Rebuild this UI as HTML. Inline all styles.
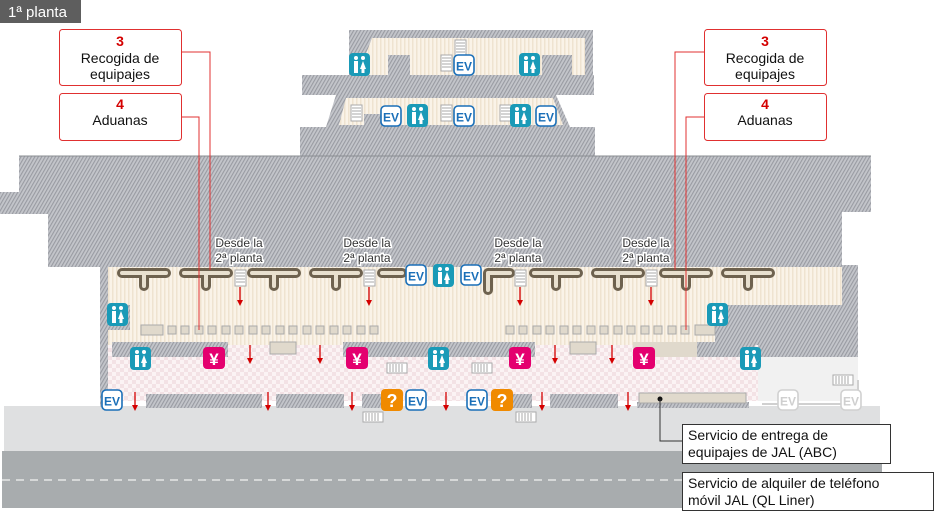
<!DOCTYPE html>
<html><head><meta charset="utf-8"><style>
body{margin:0;background:#fff;width:950px;height:513px;overflow:hidden;font-family:"Liberation Sans",sans-serif}
svg{display:block}
</style></head><body>
<svg width="950" height="513" viewBox="0 0 950 513" xmlns="http://www.w3.org/2000/svg" font-family="Liberation Sans, sans-serif">
<defs>
<pattern id="h" width="3" height="3" patternUnits="userSpaceOnUse" patternTransform="rotate(30)">
<rect width="3" height="3" fill="#c3c5ca"/><rect width="1.1" height="3" fill="#999ba2"/></pattern>
<pattern id="s" width="4" height="4" patternUnits="userSpaceOnUse">
<rect width="4" height="4" fill="#faf3e8"/><rect width="1.5" height="4" fill="#efe3d0"/></pattern>
<pattern id="c" width="8" height="8" patternUnits="userSpaceOnUse">
<rect width="8" height="8" fill="#fbf3f4"/><rect width="4" height="4" fill="#f3e2e5"/><rect x="4" y="4" width="4" height="4" fill="#f3e2e5"/></pattern>
<g id="wc"><rect width="21" height="23" rx="4" fill="#1a9ab7"/>
<circle cx="7" cy="5" r="2" fill="#fff"/><circle cx="14" cy="5" r="2" fill="#fff"/>
<rect x="5" y="8" width="4" height="12" fill="#fff"/><path d="M14 8 L17 16 L11 16 Z" fill="#fff"/><rect x="12.5" y="15" width="3" height="5" fill="#fff"/></g>
<g id="ev"><rect x="1" y="1" width="20" height="20" rx="4" fill="#fff" stroke="#1a6fb8" stroke-width="1.6"/>
<text x="11" y="16.5" font-size="12" font-weight="bold" fill="#1a6fb8" text-anchor="middle">EV</text></g>
<g id="evg"><rect x="1" y="1" width="20" height="20" rx="4" fill="#fff" stroke="#d0d0d0" stroke-width="1.6"/>
<text x="11" y="16.5" font-size="12" font-weight="bold" fill="#cfcfcf" text-anchor="middle">EV</text></g>
<g id="yen"><rect width="22" height="22" rx="4" fill="#e4006f"/><text x="11" y="18" font-size="17" font-weight="bold" fill="#fff" text-anchor="middle">¥</text></g>
<g id="q"><rect width="22" height="22" rx="4" fill="#f08a00"/><text x="11" y="18" font-size="18" font-weight="bold" fill="#fff" text-anchor="middle">?</text></g>
<g id="ar"><line x1="0" y1="0" x2="0" y2="14" stroke="#d40000" stroke-width="1.3"/><path d="M-3 13 L3 13 L0 19 Z" fill="#d40000"/></g>
<g id="esc"><rect width="11" height="16" fill="#fff" stroke="#aaa"/><path d="M1 3h9M1 6h9M1 9h9M1 12h9" stroke="#aaa"/></g>
<g id="esh"><rect width="20" height="10" fill="#fff" stroke="#aaa"/><path d="M3 1v8M6 1v8M9 1v8M12 1v8M15 1v8" stroke="#aaa"/></g>
<g id="T"><path d="M4 5 H48 M26 5 V18" fill="none" stroke="#6e624f" stroke-width="10" stroke-linecap="round" stroke-linejoin="round"/>
<path d="M4 5 H48 M26 5 V18" fill="none" stroke="#e8e0cf" stroke-width="4" stroke-linecap="round" stroke-linejoin="round"/></g>
</defs>

<!-- title -->
<rect x="0" y="0" width="81" height="23" fill="#5e5e5e"/>
<text x="8" y="17" font-size="15" fill="#fff">1ª planta</text>

<!-- ground & road -->
<rect x="4" y="406" width="876" height="46" fill="#dfe0e1"/>
<rect x="2" y="451" width="880" height="57" fill="#a8acae"/>
<line x1="2" y1="480" x2="880" y2="480" stroke="#e6e6e6" stroke-width="1.5" stroke-dasharray="8,6"/>

<!-- top building -->
<path d="M349 30 H593 V80 H349 Z" fill="url(#h)"/>
<path d="M372 38 H585 V75 H358 Z" fill="url(#s)"/>
<rect x="388" y="55" width="22" height="20" fill="url(#h)"/>
<rect x="542" y="55" width="30" height="20" fill="url(#h)"/>
<rect x="302" y="75" width="292" height="20" fill="url(#h)"/>
<path d="M336 95 H556 L570 127 H326 Z" fill="url(#h)"/>
<path d="M346 98 H553 L563 125 H339 Z" fill="url(#s)"/>
<rect x="364" y="114" width="18" height="11" fill="url(#h)"/>
<rect x="300" y="127" width="295" height="30" fill="url(#h)"/>

<!-- main roof -->
<path d="M19 156 H871 V212 H842 V265 H858 V357 H755 V267 H108 V267 H48 V214 H0 V192 H19 Z" fill="url(#h)"/>
<line x1="19" y1="156" x2="871" y2="156" stroke="#8a8d92"/>

<!-- hall interior -->
<rect x="108" y="267" width="734" height="78" fill="url(#s)"/>
<rect x="108" y="345" width="650" height="56" fill="url(#c)"/>
<rect x="758" y="357" width="100" height="44" fill="#f1f1f1"/>
<rect x="100" y="267" width="8" height="140" fill="url(#h)"/>
<rect x="108" y="305" width="22" height="25" fill="url(#h)"/>
<rect x="715" y="305" width="127" height="40" fill="url(#h)"/>
<rect x="842" y="265" width="16" height="92" fill="url(#h)"/>
<!-- lower counters row1 -->
<rect x="112" y="342" width="116" height="15" fill="url(#h)"/>
<rect x="343" y="342" width="192" height="15" fill="url(#h)"/>
<rect x="633" y="342" width="64" height="15" fill="#e0d9cc"/>
<rect x="697" y="342" width="58" height="15" fill="url(#h)"/>
<rect x="270" y="342" width="26" height="12" fill="#e0d9cc" stroke="#aaa"/>
<rect x="570" y="342" width="26" height="12" fill="#e0d9cc" stroke="#aaa"/>
<!-- customs squares -->
<rect x="141" y="325" width="22" height="10" fill="#e0d9cc" stroke="#aaa"/>
<g fill="#e0d9cc" stroke="#aaa">
<rect x="168" y="326" width="8" height="8"/><rect x="181" y="326" width="8" height="8"/><rect x="195" y="326" width="8" height="8"/><rect x="208" y="326" width="8" height="8"/><rect x="222" y="326" width="8" height="8"/><rect x="235" y="326" width="8" height="8"/><rect x="249" y="326" width="8" height="8"/><rect x="262" y="326" width="8" height="8"/><rect x="276" y="326" width="8" height="8"/><rect x="289" y="326" width="8" height="8"/><rect x="303" y="326" width="8" height="8"/><rect x="316" y="326" width="8" height="8"/><rect x="330" y="326" width="8" height="8"/><rect x="343" y="326" width="8" height="8"/><rect x="357" y="326" width="8" height="8"/><rect x="370" y="326" width="8" height="8"/>
<rect x="506" y="326" width="8" height="8"/><rect x="519" y="326" width="8" height="8"/><rect x="533" y="326" width="8" height="8"/><rect x="546" y="326" width="8" height="8"/><rect x="560" y="326" width="8" height="8"/><rect x="573" y="326" width="8" height="8"/><rect x="587" y="326" width="8" height="8"/><rect x="600" y="326" width="8" height="8"/><rect x="614" y="326" width="8" height="8"/><rect x="627" y="326" width="8" height="8"/><rect x="641" y="326" width="8" height="8"/><rect x="654" y="326" width="8" height="8"/><rect x="668" y="326" width="8" height="8"/><rect x="681" y="326" width="8" height="8"/>
<rect x="695" y="325" width="20" height="10"/></g>
<!-- carousels -->
<use href="#T" x="118" y="268"/><use href="#T" x="180" y="268"/><use href="#T" x="248" y="268"/><use href="#T" x="310" y="268"/>
<path d="M382 273 H402" stroke="#6e624f" stroke-width="10" stroke-linecap="round"/>
<path d="M382 273 H402" stroke="#e8e0cf" stroke-width="4" stroke-linecap="round"/>
<path d="M488 273 H510 M488 273 V290" fill="none" stroke="#6e624f" stroke-width="10" stroke-linecap="round"/>
<path d="M488 273 H510 M488 273 V290" fill="none" stroke="#e8e0cf" stroke-width="4" stroke-linecap="round"/>
<use href="#T" x="530" y="268"/><use href="#T" x="592" y="268"/><use href="#T" x="660" y="268"/><use href="#T" x="722" y="268"/>
<!-- escalators -->
<use href="#esc" x="235" y="270"/><use href="#esc" x="364" y="270"/><use href="#esc" x="515" y="270"/><use href="#esc" x="646" y="270"/>
<use href="#esc" x="455" y="40"/><use href="#esc" x="441" y="55"/><use href="#esc" x="351" y="105"/><use href="#esc" x="441" y="105"/><use href="#esc" x="500" y="105"/>
<use href="#esh" x="387" y="363"/><use href="#esh" x="472" y="363"/><use href="#esh" x="363" y="412"/><use href="#esh" x="516" y="412"/><use href="#esh" x="833" y="375"/>
<!-- bottom counters -->
<rect x="146" y="394" width="116" height="14" fill="url(#h)"/>
<rect x="276" y="394" width="68" height="14" fill="url(#h)"/>
<rect x="362" y="394" width="20" height="14" fill="url(#h)"/>
<rect x="512" y="394" width="20" height="14" fill="url(#h)"/>
<rect x="550" y="394" width="68" height="14" fill="url(#h)"/>
<rect x="637" y="402" width="112" height="6" fill="url(#h)"/>
<rect x="639" y="393" width="107" height="10" fill="#e0d9cc" stroke="#aaa"/>
<path d="M762 404 H858 V380" fill="none" stroke="#d0d0d0" stroke-width="2"/>
<!-- arrows -->
<use href="#ar" x="240" y="287"/><use href="#ar" x="369" y="287"/><use href="#ar" x="520" y="287"/><use href="#ar" x="651" y="287"/>
<use href="#ar" x="250" y="345"/><use href="#ar" x="320" y="345"/><use href="#ar" x="555" y="345"/><use href="#ar" x="612" y="345"/>
<use href="#ar" x="135" y="392"/><use href="#ar" x="268" y="392"/><use href="#ar" x="352" y="392"/><use href="#ar" x="446" y="392"/><use href="#ar" x="542" y="392"/><use href="#ar" x="628" y="392"/>
<!-- icons -->
<use href="#wc" x="349" y="53"/><use href="#wc" x="519" y="53"/><use href="#wc" x="407" y="104"/><use href="#wc" x="510" y="104"/>
<use href="#wc" x="433" y="264"/><use href="#wc" x="107" y="303"/><use href="#wc" x="130" y="347"/><use href="#wc" x="428" y="347"/><use href="#wc" x="707" y="303"/><use href="#wc" x="740" y="347"/>
<use href="#ev" x="453" y="54"/><use href="#ev" x="380" y="105"/><use href="#ev" x="453" y="105"/><use href="#ev" x="535" y="105"/>
<use href="#ev" x="405" y="264"/><use href="#ev" x="460" y="264"/>
<use href="#ev" x="101" y="389"/><use href="#ev" x="405" y="389"/><use href="#ev" x="466" y="389"/>
<use href="#evg" x="777" y="389"/><use href="#evg" x="840" y="389"/>
<use href="#yen" x="203" y="347"/><use href="#yen" x="346" y="347"/><use href="#yen" x="509" y="347"/><use href="#yen" x="633" y="347"/>
<use href="#q" x="381" y="389"/><use href="#q" x="491" y="389"/>
<!-- Desde labels -->
<g font-size="12" fill="#333" text-anchor="middle" stroke="#fff" stroke-width="3" paint-order="stroke">
<text x="239" y="247">Desde la</text><text x="239" y="262">2ª planta</text>
<text x="367" y="247">Desde la</text><text x="367" y="262">2ª planta</text>
<text x="518" y="247">Desde la</text><text x="518" y="262">2ª planta</text>
<text x="646" y="247">Desde la</text><text x="646" y="262">2ª planta</text>
</g>
<!-- callout lines -->
<g stroke="#e03030" stroke-width="1" fill="none">
<path d="M181 52 H210 V270"/><path d="M181 117 H199 V330"/>
<path d="M704 52 H675 V270"/><path d="M704 117 H686 V330"/>
</g>
<!-- callout boxes -->
<g fill="#fff" stroke="#e03030" stroke-width="1">
<rect x="59.5" y="29.5" width="122" height="56" rx="3"/><rect x="59.5" y="93.5" width="122" height="47" rx="3"/>
<rect x="704.5" y="29.5" width="122" height="56" rx="3"/><rect x="704.5" y="93.5" width="122" height="47" rx="3"/>
</g>
<g text-anchor="middle" font-size="14">
<text x="120" y="46" fill="#d40000" font-weight="bold">3</text>
<text x="120" y="63" fill="#111">Recogida de</text><text x="120" y="79" fill="#111">equipajes</text>
<text x="120" y="109" fill="#d40000" font-weight="bold">4</text><text x="120" y="125" fill="#111">Aduanas</text>
<text x="765" y="46" fill="#d40000" font-weight="bold">3</text>
<text x="765" y="63" fill="#111">Recogida de</text><text x="765" y="79" fill="#111">equipajes</text>
<text x="765" y="109" fill="#d40000" font-weight="bold">4</text><text x="765" y="125" fill="#111">Aduanas</text>
</g>
<!-- bottom labels -->
<circle cx="660" cy="399" r="2.5" fill="#111"/>
<path d="M660 399 V441 H682" fill="none" stroke="#333"/>
<rect x="682.5" y="424.5" width="208" height="39" fill="#fff" stroke="#333"/>
<rect x="682.5" y="472.5" width="251" height="38" fill="#fff" stroke="#333"/>
<g font-size="14" fill="#111">
<text x="688" y="440">Servicio de entrega de</text><text x="688" y="457">equipajes de JAL (ABC)</text>
<text x="688" y="488">Servicio de alquiler de teléfono</text><text x="688" y="505">móvil JAL (QL Liner)</text>
</g>
</svg>
</body></html>
